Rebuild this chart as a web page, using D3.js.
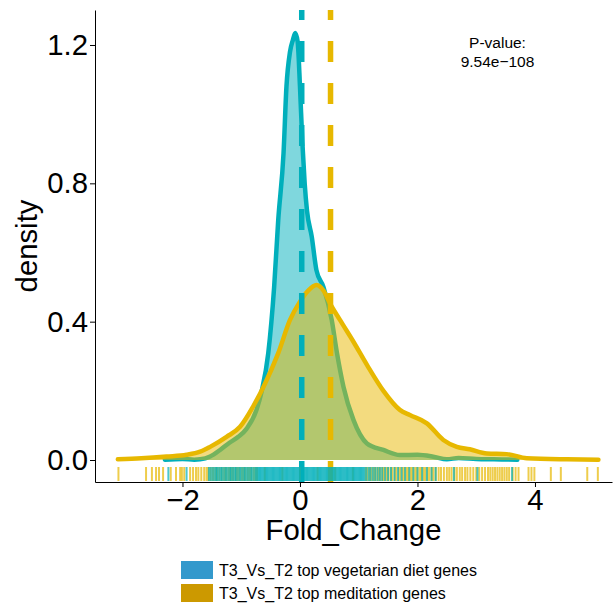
<!DOCTYPE html>
<html>
<head>
<meta charset="utf-8">
<script src="https://cdn.jsdelivr.net/npm/d3@7"></script>
<style>
  body { margin: 0; background: #fff; }
  svg { font-family: "Liberation Sans", Arial, Helvetica, sans-serif; }
</style>
</head>
<body>
<svg id="chart"></svg>
<script>
// density curves (Fold_Change -> density)
let vegX = [-2.3, -2.0, -1.8, -1.7, -1.53, -1.36, -1.2, -1.05, -0.91, -0.74, -0.65, -0.54, -0.44, -0.37, -0.28, -0.23, -0.17, -0.12, -0.08, -0.04, 0.0, 0.04, 0.08, 0.12, 0.2, 0.28, 0.4, 0.54, 0.63, 0.74, 0.91, 1.14, 1.42, 1.7, 2.0, 2.27, 2.5, 2.7, 3.0, 3.3, 3.7]
let vegD = [0.001, 0.003, 0.001, 0.002, 0.01, 0.029, 0.05, 0.067, 0.09, 0.145, 0.2, 0.309, 0.5, 0.694, 0.887, 1.08, 1.18, 1.215, 1.235, 1.21, 1.08, 0.92, 0.8, 0.72, 0.646, 0.549, 0.5, 0.405, 0.309, 0.212, 0.116, 0.048, 0.029, 0.0145, 0.015, 0.0096, 0.002, 0.006, 0.003, 0.002, 0.001]

let medX = [-3.1, -2.7, -2.27, -1.93, -1.7, -1.53, -1.25, -1.02, -0.8, -0.62, -0.37, -0.17, 0.0, 0.14, 0.28, 0.4, 0.51, 0.68, 0.91, 1.14, 1.42, 1.7, 1.87, 2.16, 2.44, 2.67, 2.89, 3.18, 3.52, 3.86, 4.54, 5.08]
let medD = [0.002, 0.005, 0.01, 0.015, 0.024, 0.038, 0.067, 0.096, 0.154, 0.212, 0.309, 0.405, 0.458, 0.49, 0.506, 0.49, 0.453, 0.405, 0.342, 0.275, 0.2, 0.145, 0.13, 0.106, 0.058, 0.038, 0.031, 0.019, 0.017, 0.005, 0.002, 0.001]

// rug positions
let vegRug = [-2.24, -1.93, -1.55, -1.52, -1.49, -1.46, -1.43, -1.41, -1.38, -1.35, -1.33, -1.30, -1.27, -1.25, -1.22, -1.19, -1.17, -1.14, -1.11, -1.09, -1.06, -1.03, -1.01, -0.98, -0.95, -0.93, -0.90, -0.87, -0.84, -0.82, -0.79, -0.76, -0.74,
  -0.72, -0.70, -0.68, -0.66, -0.64, -0.62, -0.60, -0.58, -0.56, -0.54, -0.52, -0.50, -0.48, -0.46, -0.44, -0.42, -0.40, -0.38, -0.36, -0.34, -0.32, -0.30, -0.28, -0.26, -0.24, -0.22, -0.20, -0.18, -0.16, -0.14, -0.12, -0.10, -0.08, -0.06, -0.04, -0.02,
  0.00, 0.02, 0.04, 0.06, 0.08, 0.10, 0.12, 0.14, 0.16, 0.18, 0.20, 0.22, 0.24, 0.26, 0.28, 0.30, 0.32, 0.34, 0.36, 0.38, 0.40, 0.42, 0.44, 0.46, 0.48, 0.50, 0.52, 0.54, 0.56, 0.58, 0.60, 0.62, 0.64, 0.66, 0.68, 0.70, 0.72, 0.74, 0.76, 0.78, 0.80, 0.82, 0.84, 0.86, 0.88, 0.90, 0.92, 0.94, 0.96, 0.98, 1.00, 1.02, 1.04, 1.06, 1.08, 1.10,
  1.13, 1.17, 1.20, 1.24, 1.28, 1.32, 1.36, 1.40, 1.45, 1.50, 1.55, 1.61, 1.67, 1.73, 1.79, 1.86, 1.93, 2.00, 2.08, 2.16, 2.24, 2.31, 2.62, 3.02, 3.61]
let medRug = [-3.09, -2.62, -2.52, -2.45, -2.40, -2.33, -2.20, -2.11, -2.04, -2.01, -1.97, -1.87, -1.82, -1.77, -1.73, -1.68, -1.63, -1.59, -1.56, -1.52, -1.48, -1.44, -1.41, -1.37, -1.33, -1.29, -1.26, -1.22, -1.19, -1.16, -1.13, -1.09, -1.06, -1.03, -0.99, -0.96, -0.93, -0.89, -0.86, -0.83, -0.79, -0.76, -0.73,
  -0.6, -0.3, 0.0, 0.3, 0.6, 0.9,
  1.12, 1.15, 1.19, 1.22, 1.26, 1.29, 1.33, 1.36, 1.40, 1.43, 1.47, 1.50, 1.54, 1.57, 1.61, 1.64, 1.68, 1.71, 1.75, 1.78, 1.82, 1.85, 1.89, 1.92, 1.96, 1.99, 2.03, 2.06, 2.10, 2.13, 2.17, 2.20, 2.24, 2.27, 2.31, 2.36, 2.40, 2.45, 2.50, 2.54, 2.58, 2.63, 2.67, 2.72, 2.76, 2.81, 2.85, 2.90, 2.95, 3.00, 3.05, 3.10, 3.15, 3.20, 3.24, 3.28, 3.32, 3.36, 3.40, 3.44, 3.48, 3.52, 3.56, 3.62, 3.67, 3.72, 3.89, 3.94, 3.99, 4.27, 4.44, 4.89, 5.07]

let groupMeans = [0.03, 0.52]
let groupNames = ['T3_Vs_T2 top vegetarian diet genes', 'T3_Vs_T2 top meditation genes']
let lineColors = ['#00AFBB', '#E7B800']
let legendColors = ['#3399CC', '#CC9900']
let xTicks = [-2, 0, 2, 4]
let yTicks = [0, 0.4, 0.8, 1.2]
let pLabel = ['P-value:', '9.54e\u2212108']

let width = 613
let height = 606
let panelLeft = 95, panelRight = 612, panelTop = 10, panelBottom = 482

let svg = d3.select('#chart').attr('width', width).attr('height', height)

// scales: 0 at y=460, 1.2 at y=45; -2 at x=182.5, 4 at x=535
let yScale = d3.scaleLinear().domain([-0.0636, 1.3012]).range([panelBottom, panelTop])
let xScale = d3.scaleLinear().domain([-3.489, 5.311]).range([panelLeft, panelRight])

let series = [
  vegX.map((x, i) => ({ x: x, y: vegD[i] })),
  medX.map((x, i) => ({ x: x, y: medD[i] }))
]

let area = d3.area()
  .x(d => xScale(d.x))
  .y0(yScale(0))
  .y1(d => yScale(d.y))
  .curve(d3.curveMonotoneX)

let line = d3.line()
  .x(d => xScale(d.x))
  .y(d => yScale(d.y))
  .curve(d3.curveMonotoneX)

series.forEach((s, i) => {
  svg.append('path')
    .attr('d', area(s))
    .attr('fill', lineColors[i])
    .attr('fill-opacity', 0.5)
  svg.append('path')
    .attr('d', line(s))
    .attr('fill', 'none')
    .attr('stroke', lineColors[i])
    .attr('stroke-width', 4.5)
    .attr('stroke-linejoin', 'round')
    .attr('stroke-linecap', 'round')
})

// mean lines, drawn from the bottom of the panel upward
svg.selectAll('.vline')
  .data(groupMeans)
  .enter()
  .append('line')
  .attr('class', 'vline')
  .attr('x1', d => xScale(d))
  .attr('x2', d => xScale(d))
  .attr('y1', panelBottom)
  .attr('y2', panelTop)
  .attr('stroke', (d, i) => lineColors[i])
  .attr('stroke-width', 5.5)
  .attr('stroke-dasharray', '21,21')

// rug
let drawRug = (vals, color) => {
  svg.append('g')
    .selectAll('line')
    .data(vals)
    .enter()
    .append('line')
    .attr('x1', d => xScale(d))
    .attr('x2', d => xScale(d))
    .attr('y1', panelBottom - 1)
    .attr('y2', panelBottom - 15)
    .attr('stroke', color)
    .attr('stroke-width', 2)
    .attr('stroke-opacity', 0.7)
}
drawRug(medRug, lineColors[1])
drawRug(vegRug, lineColors[0])

// axes
let xAxis = d3.axisBottom(xScale).tickValues(xTicks).tickSize(5).tickSizeOuter(0).tickPadding(2)
let yAxis = d3.axisLeft(yScale).tickValues(yTicks).tickFormat(d3.format('.1f')).tickSize(5).tickSizeOuter(0).tickPadding(2)

let gx = svg.append('g').attr('transform', `translate(0,${panelBottom})`).call(xAxis)
let gy = svg.append('g').attr('transform', `translate(${panelLeft},0)`).call(yAxis)

;[gx, gy].forEach(g => {
  g.selectAll('path, line').attr('stroke', '#000').attr('stroke-width', 1)
  g.selectAll('text')
    .attr('fill', '#000')
    .style('font-size', '29.3px')
    .style('font-family', '"Liberation Sans", Arial, sans-serif')
})

svg.append('text')
  .attr('x', (panelLeft + panelRight) / 2)
  .attr('y', 540)
  .attr('text-anchor', 'middle')
  .style('font-size', '29.3px')
  .text('Fold_Change')

svg.append('text')
  .attr('transform', `translate(37,${(panelTop + panelBottom) / 2}) rotate(-90)`)
  .attr('text-anchor', 'middle')
  .style('font-size', '29.3px')
  .text('density')

// p-value annotation
svg.append('text')
  .attr('text-anchor', 'middle')
  .style('font-size', '15.5px')
  .selectAll('tspan')
  .data(pLabel)
  .enter()
  .append('tspan')
  .attr('x', 497.5)
  .attr('y', (d, i) => 48 + i * 18.5)
  .text(d => d)

// legend
let legend = svg.append('g')
groupNames.forEach((name, i) => {
  legend.append('rect')
    .attr('x', 181)
    .attr('y', 561 + i * 23)
    .attr('width', 32)
    .attr('height', 18)
    .attr('fill', legendColors[i])
  legend.append('text')
    .attr('x', 219)
    .attr('y', 570 + i * 23)
    .attr('dy', '0.35em')
    .style('font-size', '16px')
    .text(name)
})
</script>
</body>
</html>
